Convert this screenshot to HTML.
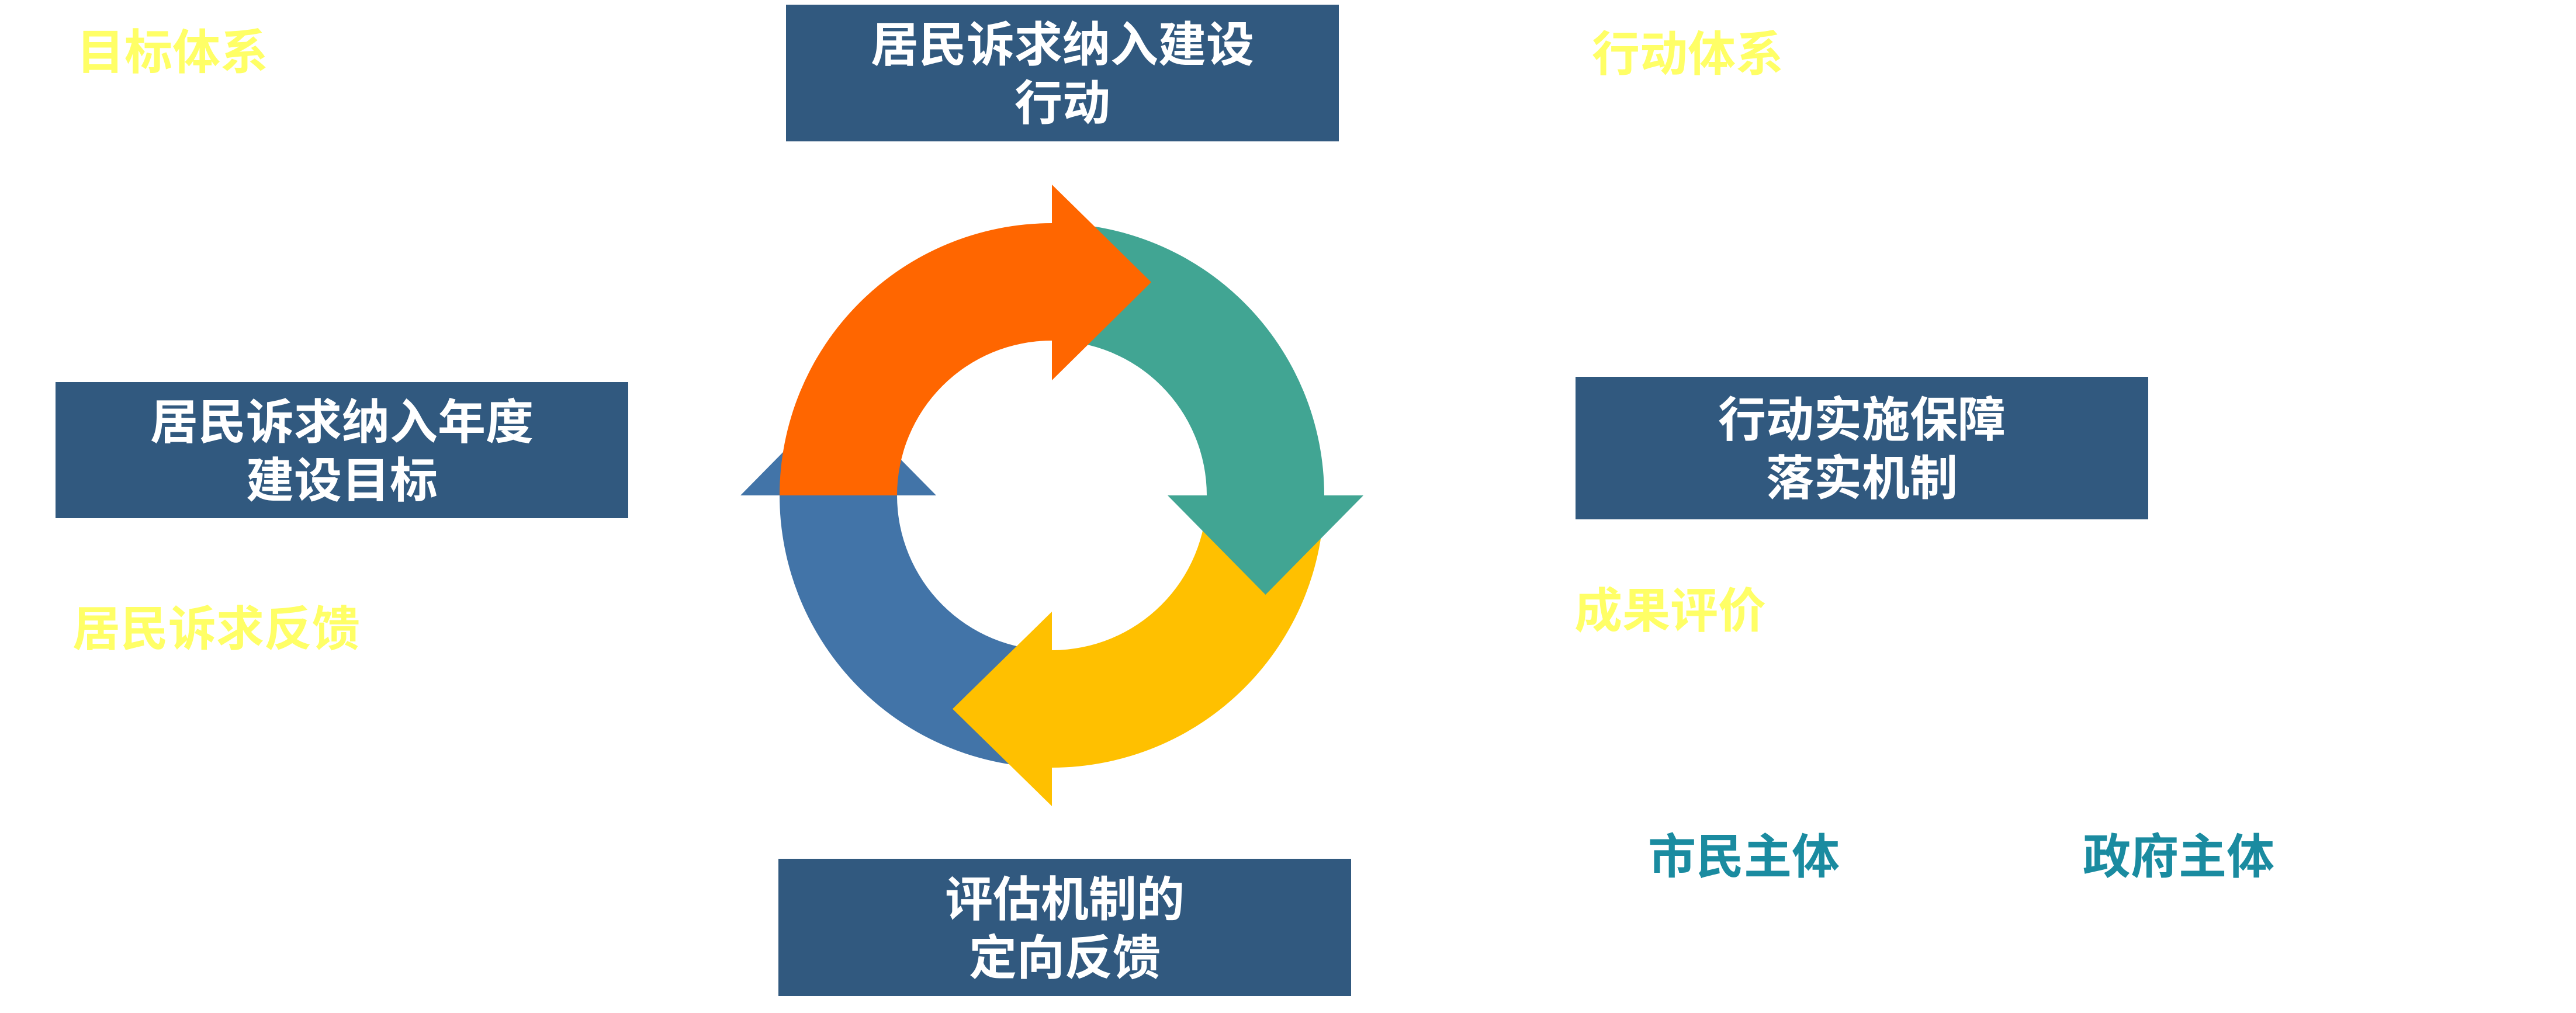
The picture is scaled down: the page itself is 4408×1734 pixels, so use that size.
<!DOCTYPE html>
<html>
<head>
<meta charset="utf-8">
<style>
  html, body { margin:0; padding:0; }
  body { width:4408px; height:1734px; position:relative; background:#ffffff; overflow:hidden;
         font-family:"Liberation Sans","Noto Sans CJK SC",sans-serif; font-weight:bold; }
  .box { position:absolute; background:#31597F; color:#ffffff; display:flex; align-items:center;
         justify-content:center; text-align:center; font-size:82px; line-height:100px; box-sizing:border-box; padding-top:6px; }
  .lbl { position:absolute; font-size:82px; line-height:84px; white-space:nowrap; }
  .y { color:#FFFF66; }
  .t { color:#1A8BA0; }
  svg { position:absolute; left:0; top:0; }
</style>
</head>
<body>
<svg width="4408" height="1734" viewBox="0 0 4408 1734">
  <!-- blue -->
  <path fill="#4274A8" d="M 1800 1314 A 466 466 0 0 1 1334 848 L 1267 848 L 1434.5 678 L 1602 848 L 1535 848 A 265 265 0 0 0 1800 1113 Z"/>
  <!-- yellow -->
  <path fill="#FFC000" d="M 2266 848 A 466 466 0 0 1 1800 1314 L 1800 1380 L 1630 1213.5 L 1800 1047 L 1800 1113 A 265 265 0 0 0 2065 848 Z"/>
  <!-- teal -->
  <path fill="#41A593" d="M 1800 382 A 466 466 0 0 1 2266 848 L 2333 848 L 2165.5 1018 L 1998 848 L 2065 848 A 265 265 0 0 0 1800 583 Z"/>
  <!-- orange -->
  <path fill="#FF6600" d="M 1334 848 A 466 466 0 0 1 1800 382 L 1800 316 L 1970 483 L 1800 651 L 1800 583 A 265 265 0 0 0 1535 848 Z"/>
</svg>

<div class="box" style="left:1345px; top:8px; width:946px; height:234px;">居民诉求纳入建设<br>行动</div>
<div class="box" style="left:95px; top:654px; width:980px; height:233px;">居民诉求纳入年度<br>建设目标</div>
<div class="box" style="left:2696px; top:645px; width:980px; height:244px;">行动实施保障<br>落实机制</div>
<div class="box" style="left:1332px; top:1470px; width:980px; height:235px;">评估机制的<br>定向反馈</div>

<div class="lbl y" style="left:131px; top:49px;">目标体系</div>
<div class="lbl y" style="left:2724px; top:52px;">行动体系</div>
<div class="lbl y" style="left:124px; top:1036px;">居民诉求反馈</div>
<div class="lbl y" style="left:2694px; top:1005px;">成果评价</div>
<div class="lbl t" style="left:2820px; top:1426px;">市民主体</div>
<div class="lbl t" style="left:3564px; top:1426px;">政府主体</div>
</body>
</html>
